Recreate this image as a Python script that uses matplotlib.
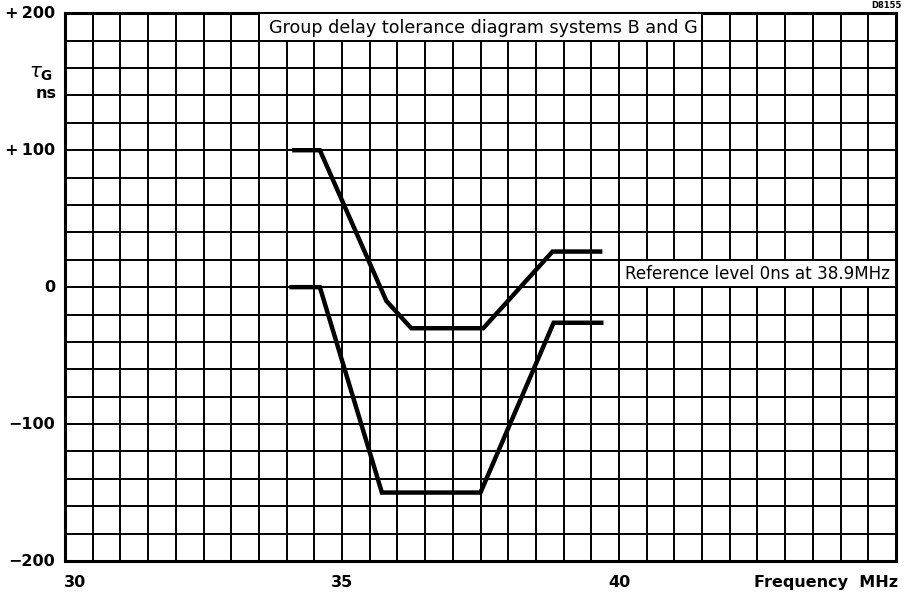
import matplotlib
matplotlib.use("Agg")
import matplotlib.pyplot as plt
from matplotlib.patches import Rectangle
from matplotlib.ticker import MultipleLocator

# Tolerance limits for group delay, systems B and G
upper_freq_mhz = [34.1, 34.6, 35.8, 36.25, 37.55, 38.8, 39.7]
upper_delay_ns = [100, 100, -10, -30, -30, 26, 26]

lower_freq_mhz = [34.05, 34.6, 35.72, 37.5, 38.82, 39.72]
lower_delay_ns = [0, 0, -150, -150, -26, -26]

x_tick_values = [30, 35, 40]
x_tick_labels = ["30", "35", "40"]
y_tick_values = [200, 100, 0, -100, -200]
y_tick_labels = ["+\u2009200", "+\u2009100", "0", "\u2212100", "\u2212200"]

title_text = "Group delay tolerance diagram systems B and G"
reference_text = "Reference level 0ns at 38.9MHz"

plt.rcParams["font.family"] = ["DejaVu Sans"]

fig = plt.figure(figsize=(9.11, 5.96), dpi=100)
ax = fig.add_axes([0.0714, 0.0587, 0.9121, 0.9190])
ax.set_xlim(30, 45)
ax.set_ylim(-200, 200)

# square grid: 0.5 MHz by 20 ns
ax.xaxis.set_major_locator(MultipleLocator(0.5))
ax.yaxis.set_major_locator(MultipleLocator(20))
ax.grid(True, color="black", linewidth=1.4)
ax.set_axisbelow(True)
ax.tick_params(length=0, labelbottom=False, labelleft=False)
for s in ax.spines.values():
    s.set_linewidth(2.2)

ax.plot(upper_freq_mhz, upper_delay_ns, color="black", lw=3.2,
        solid_joinstyle="miter", solid_capstyle="butt", zorder=3)
ax.plot(lower_freq_mhz, lower_delay_ns, color="black", lw=3.2,
        solid_joinstyle="miter", solid_capstyle="butt", zorder=3)

# boxed captions over the grid
ax.add_patch(Rectangle((33.5, 180), 8.0, 20, facecolor="white",
                       edgecolor="black", lw=1.4, zorder=4, clip_on=False))
ax.text(33.68, 189.5, title_text, ha="left", va="center", fontsize=12.6,
        zorder=5)
ax.add_patch(Rectangle((40.0, 0), 5.0, 20, facecolor="white",
                       edgecolor="black", lw=1.4, zorder=4, clip_on=False))
ax.text(40.11, 9.5, reference_text, ha="left", va="center", fontsize=12.1,
        zorder=5)

# axis labels
for v, lab in zip(y_tick_values, y_tick_labels):
    ax.text(-0.012, (v + 200) / 400, lab, transform=ax.transAxes,
            ha="right", va="center", fontsize=11.5, fontweight="bold")
for v, lab in zip(x_tick_values, x_tick_labels):
    ha = "left" if v == 30 else "center"
    ax.text(v + (0.0 if v != 30 else -0.03), -0.04, lab,
            transform=ax.get_xaxis_transform(), ha=ha, va="center",
            fontsize=11.5, fontweight="bold")
ax.text(1.003, -0.04, "Frequency  MHz", transform=ax.transAxes,
        ha="right", va="center", fontsize=11.5, fontweight="bold")

fig.text(41 / 911, 1 - 73 / 596, r"$\tau_{\mathbf{G}}$", ha="center",
         va="center", fontsize=14)
fig.text(46 / 911, 1 - 94 / 596, "ns", ha="center", va="center",
         fontsize=11.5, fontweight="bold")
fig.text(902 / 911, 1 - 6 / 596, "D8155", ha="right", va="center",
         fontsize=6, fontweight="bold")

fig.savefig("out.png", dpi=100)
